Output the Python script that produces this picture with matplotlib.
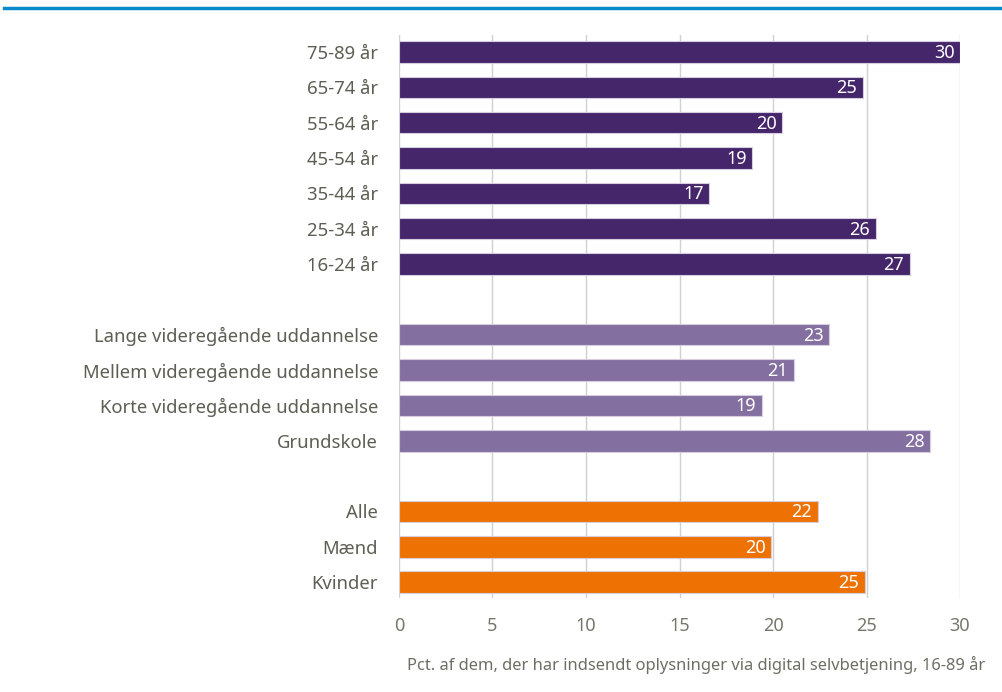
import matplotlib.pyplot as plt
from matplotlib.lines import Line2D

plt.rcParams['font.family'] = ['Noto Sans', 'DejaVu Sans']

# age groups, education, gender (top to bottom)
age_labels = ['75-89 år', '65-74 år', '55-64 år', '45-54 år', '35-44 år', '25-34 år', '16-24 år']
age_values = [30.0, 24.8, 20.5, 18.9, 16.6, 25.5, 27.3]

edu_labels = ['Lange videregående uddannelse', 'Mellem videregående uddannelse',
              'Korte videregående uddannelse', 'Grundskole']
edu_values = [23.0, 21.1, 19.4, 28.4]

sex_labels = ['Alle', 'Mænd', 'Kvinder']
sex_values = [22.4, 19.9, 24.9]

xticks = [0, 5, 10, 15, 20, 25, 30]
xlabel = 'Pct. af dem, der har indsendt oplysninger via digital selvbetjening, 16-89 år'

groups = [
    (age_labels, age_values, '#45266a'),
    (edu_labels, edu_values, '#8470a0'),
    (sex_labels, sex_values, '#ee7203'),
]

fig = plt.figure(figsize=(10.03, 6.92), dpi=100)
ax = fig.add_axes([399 / 1003, 1 - 598 / 692, (960 - 399) / 1003, (598 - 35) / 692])

pos = 0
yticks, ylabels = [], []
for labels, values, color in groups:
    for lab, val in zip(labels, values):
        ax.barh(pos, val, height=0.61, color=color, edgecolor='#d6cde0', linewidth=0.8, zorder=3)
        ax.text(val - 0.3, pos + 0.03, f'{round(val):d}', color='white', fontsize=13,
                fontweight='light', ha='right', va='center', zorder=4)
        yticks.append(pos)
        ylabels.append(lab)
        pos += 1
    pos += 1

ax.set_xlim(0, 30)
ax.set_ylim(15.45, -0.48)
ax.set_yticks(yticks)
ax.set_yticklabels(ylabels, fontsize=13.3, color='#5e5e54', fontweight='light')
ax.set_xticks(xticks)
ax.set_xticklabels([str(t) for t in xticks], fontsize=13, color='#77776b', fontweight='light')
ax.tick_params(axis='y', length=0, pad=15)
ax.tick_params(axis='x', length=0, pad=14)
ax.grid(axis='x', color='#d0d0cc', linewidth=1, zorder=0)
for s in ax.spines.values():
    s.set_visible(False)

fig.text(985 / 1003, 1 - 665 / 692, xlabel, ha='right', va='center', fontsize=11.9,
         fontweight='light', color='#6e6e64')

# blue rule across the top
fig.add_artist(Line2D([4 / 1003, 1000 / 1003], [1 - 8 / 692, 1 - 8 / 692],
                      transform=fig.transFigure, color='#0a8ac8', linewidth=2.5))

fig.savefig('out.png', dpi=100)
